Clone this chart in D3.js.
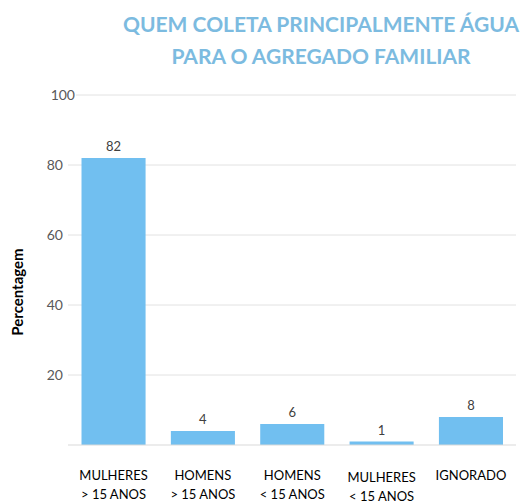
<!DOCTYPE html>
<html>
<head>
<meta charset="utf-8">
<script src="https://cdn.jsdelivr.net/npm/d3@7"></script>
<style>
  body { margin: 0; background: #fff; }
  svg { font-family: Lato, "Open Sans", sans-serif; }
</style>
</head>
<body>
<div id="chart"></div>
<script>
// data
const categories = ['MULHERES > 15 ANOS', 'HOMENS > 15 ANOS', 'HOMENS < 15 ANOS', 'MULHERES < 15 ANOS', 'IGNORADO'];
const labelLines = [['MULHERES', '> 15 ANOS'], ['HOMENS', '> 15 ANOS'], ['HOMENS', '< 15 ANOS'], ['MULHERES', '< 15 ANOS'], ['IGNORADO']];
const values = [82, 4, 6, 1, 8];
const yTicks = [20, 40, 60, 80, 100];
const titleLines = ['QUEM COLETA PRINCIPALMENTE ÁGUA', 'PARA O AGREGADO FAMILIAR'];

let width = 524,
    height = 503;

let svg = d3.select('#chart')
    .append('svg')
    .attr('width', width)
    .attr('height', height);

// scales
let xScale = d3.scaleBand()
    .domain(categories)
    .range([69, 515.5])
    .paddingInner(0.283)
    .paddingOuter(0.14);

let yScale = d3.scaleLinear()
    .domain([0, 100])
    .range([445, 95]);

// title
svg.selectAll('.title')
    .data(titleLines)
    .enter()
    .append('text')
    .attr('x', 321)
    .attr('y', (d, i) => 32 + i * 32)
    .attr('text-anchor', 'middle')
    .attr('font-size', 21)
    .attr('font-weight', 'bold')
    .attr('fill', '#7cbbe0')
    .text(d => d);

// gridlines
svg.selectAll('.grid')
    .data(yTicks)
    .enter()
    .append('line')
    .attr('x1', d => d === 100 ? 76 : 68)
    .attr('x2', 516)
    .attr('y1', d => yScale(d))
    .attr('y2', d => yScale(d))
    .attr('stroke', '#e2e2e2')
    .attr('stroke-width', 1);

// y tick labels
svg.selectAll('.ytick')
    .data(yTicks)
    .enter()
    .append('text')
    .attr('x', d => d === 100 ? 75 : 63)
    .attr('y', d => yScale(d) + 5)
    .attr('text-anchor', 'end')
    .attr('font-size', 14)
    .attr('fill', '#595959')
    .text(d => d);

// bars
svg.selectAll('.bar')
    .data(values)
    .enter()
    .append('rect')
    .attr('x', (d, i) => xScale(categories[i]))
    .attr('y', d => yScale(d))
    .attr('width', xScale.bandwidth())
    .attr('height', d => yScale(0) - yScale(d))
    .attr('fill', '#71bff0');

// baseline
svg.append('line')
    .attr('x1', 68)
    .attr('x2', 516)
    .attr('y1', yScale(0))
    .attr('y2', yScale(0))
    .attr('stroke', '#d9d9d9')
    .attr('stroke-width', 1);

// value labels
svg.selectAll('.val')
    .data(values)
    .enter()
    .append('text')
    .attr('x', (d, i) => xScale(categories[i]) + xScale.bandwidth() / 2)
    .attr('y', d => yScale(d) - 7)
    .attr('text-anchor', 'middle')
    .attr('font-size', 13)
    .attr('fill', '#404040')
    .text(d => d);

// x labels (4th one sits a little lower, as in the original)
labelLines.forEach((lines, i) => {
    let cx = xScale(categories[i]) + xScale.bandwidth() / 2;
    let off = i === 3 ? 2 : 0;
    lines.forEach((line, j) => {
        svg.append('text')
            .attr('x', cx)
            .attr('y', 480 + off + j * 19)
            .attr('text-anchor', 'middle')
            .attr('font-size', 13)
            .attr('fill', '#000')
            .text(line);
    });
});

// y axis label
svg.append('text')
    .attr('transform', 'translate(23, 292) rotate(-90)')
    .attr('text-anchor', 'middle')
    .attr('font-size', 15)
    .attr('font-weight', 'bold')
    .attr('fill', '#000')
    .text('Percentagem');
</script>
</body>
</html>
